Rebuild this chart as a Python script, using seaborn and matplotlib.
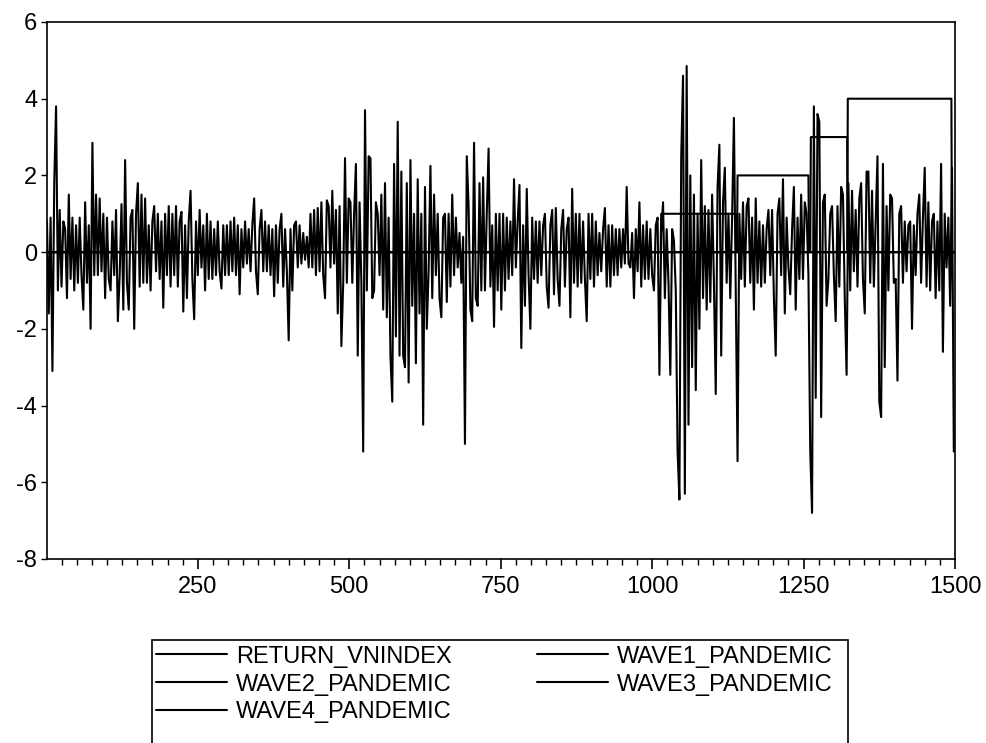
import numpy as np
import pandas as pd
import matplotlib
matplotlib.use("Agg")
import matplotlib.pyplot as plt
import seaborn as sns
from matplotlib.patches import Rectangle
from matplotlib.ticker import MultipleLocator

ret_step = 3
return_vnindex = [
    0.8, -1.6, 0.9, -3.1, 1.8, 3.8, -1.0, 1.1, -0.9, 0.8,
    0.6, -1.2, 1.5, -0.7, 0.9, -1.0, 0.7, -0.8, 0.9, -0.6,
    -1.5, 1.3, -0.8, 0.7, -2.0, 2.85, -0.6, 1.5, -0.6, 1.4,
    -0.5, 1.0, -1.2, 0.9, -0.7, -1.0, 0.8, -0.6, 1.1, -1.8,
    -0.6, 1.25, -1.5, 2.4, -0.8, -1.5, 0.9, 1.1, -2.0, 1.0,
    1.8, -0.9, 1.5, -0.8, 1.4, -0.8, 0.7, -1.0, 0.8, 1.2,
    -0.5, 1.0, -0.7, 0.8, -1.45, 1.0, -0.6, 1.2, -0.9, 1.0,
    -0.6, 1.2, -0.9, 0.8, 1.05, -1.55, 0.7, -1.2, 0.8, 1.6,
    -0.7, -1.75, 0.8, -0.6, 1.1, -0.4, 0.7, -1.0, 1.0, -0.7,
    0.8, -0.7, 0.6, -0.6, 0.8, -0.5, -0.95, 0.7, -0.6, 0.7,
    # 301 - 598
    -0.6, 0.8, -0.5, 0.9, -0.6, 0.7, -1.1, 0.6, -0.4, 0.8,
    -0.3, 0.6, -0.5, 0.7, 1.4, -0.5, -1.1, 0.6, 1.1, -0.5,
    0.8, -0.5, 0.7, -0.6, 0.6, -1.15, 0.7, -0.8, 0.6, 1.0,
    -0.9, 0.6, -0.5, -2.3, 0.6, -1.0, 0.7, 0.8, -0.4, 0.7,
    -0.3, 0.5, -0.2, 0.4, -0.4, 1.0, -0.4, 1.1, -0.6, 1.15,
    -0.5, 1.3, -0.6, -1.2, 1.35, 1.2, -0.4, 1.6, -0.3, 1.1,
    -1.6, 1.2, -2.45, -0.8, 2.45, -0.8, 1.4, 1.3, -0.8, 1.0,
    2.3, -2.7, 1.3, -0.8, -5.2, 3.7, -1.0, 2.5, 2.45, -1.2,
    -1.0, 1.3, 1.0, -0.6, 1.5, -1.5, 1.8, -1.7, 0.9, -2.7,
    -3.9, 2.3, -2.2, 3.4, -2.7, 2.1, -2.7, -3.0, 1.8, -3.4,
    # 601 - 898
    2.4, -1.4, 1.0, -2.9, 1.9, -1.6, 1.0, -4.5, 1.7, -2.0,
    -0.5, 2.25, -1.2, 1.5, -0.6, 1.0, -1.2, -1.7, 0.9, 1.0,
    -1.3, 1.0, -0.9, 1.5, -0.6, 0.9, -0.4, 0.5, -0.8, 0.4,
    -5.0, 2.5, 1.2, -1.5, -1.8, 2.85, -1.2, -1.4, 1.8, -1.0,
    1.95, -1.0, 1.0, 2.7, -0.9, 0.7, -1.95, 1.0, -1.0, 1.0,
    -1.5, 1.0, -1.0, 0.9, -0.7, 0.8, -0.6, 1.9, -0.4, 0.8,
    1.75, -2.5, 0.7, -1.4, 1.65, -0.6, -2.0, 0.9, -0.7, 0.8,
    -0.8, 0.8, -0.6, 0.7, 1.0, -0.9, -1.45, 0.7, 1.1, -1.1,
    1.15, -0.7, -1.4, 0.6, 1.1, -0.9, 0.6, 0.9, -1.7, 1.65,
    -0.8, 1.0, -0.9, 1.0, -0.8, 0.8, -0.7, -1.8, 1.0, -0.7,
    # 901 - 1198
    1.0, -0.9, 0.8, -0.6, 0.5, -0.5, 0.6, 1.15, -0.9, 0.7,
    -0.9, 0.7, -0.6, 0.6, -0.6, 0.6, -0.4, 0.6, -0.3, 1.7,
    -0.3, -0.4, 0.5, -1.2, 0.6, -0.5, 1.3, -0.9, 0.7, -0.7,
    0.8, -0.7, 0.6, -0.6, -1.0, 0.7, 0.9, -3.2, 0.5, 1.3,
    -1.2, 0.6, -0.8, -3.2, 0.6, 0.3, -1.0, -5.2, -6.45, 2.5,
    4.6, -6.3, 4.85, -4.5, 2.0, -3.0, 1.5, -3.6, 1.0, -2.0,
    2.4, -1.2, 1.2, -1.5, 1.1, -1.3, 1.5, -0.8, -3.7, 1.7,
    2.8, -2.7, 1.3, 2.2, -0.8, 1.0, -1.2, 0.9, 3.5, -1.0,
    -5.45, 1.0, -0.7, 1.3, -0.9, 1.2, 1.4, -0.8, 0.9, -1.5,
    1.4, -0.8, 0.8, -0.9, 0.7, -0.8, 0.6, 1.1, -0.6, 1.1,
    # 1201 - 1498
    -1.2, -2.7, 1.0, 1.4, -0.6, 1.9, -1.6, 0.9, -0.4, -1.1,
    0.6, 1.7, -1.5, 0.9, -0.7, 1.5, -0.7, 1.3, 1.0, -0.6,
    -5.2, -6.8, 3.8, -3.8, 3.6, 3.4, -4.3, 1.3, 1.5, -1.4,
    -0.7, 1.0, 1.2, -0.6, -1.8, 1.2, -0.9, 1.7, 1.5, -1.2,
    -3.2, 1.8, -1.0, 1.6, -0.5, 1.1, -0.9, 1.4, 1.8, -0.7,
    -1.6, 2.1, 2.1, -0.8, 1.6, -0.9, 0.8, 2.5, -3.9, -4.3,
    2.3, -3.0, 1.2, -1.0, 1.5, 1.4, -0.8, -0.7, -3.35, 1.0,
    1.2, -0.8, 0.8, -0.5, 0.7, 0.8, -2.0, 0.7, -0.6, 1.0,
    1.5, -0.8, 0.9, 2.2, -0.9, 1.3, -1.0, 0.8, 1.0, -1.2,
    0.8, -1.0, 2.3, -2.6, 1.0, -0.4, 0.9, -1.4, 2.2, -5.2,
]

# pandemic wave dummies (level during the wave, 0 otherwise)
n_obs = 1500
wave_names = ["WAVE1_PANDEMIC", "WAVE2_PANDEMIC", "WAVE3_PANDEMIC", "WAVE4_PANDEMIC"]
wave_levels = [1, 2, 3, 4]
wave_start = [1015, 1141, 1262, 1323]
wave_end = [1140, 1258, 1322, 1494]

ret_df = pd.DataFrame({
    "obs": np.arange(1, n_obs + 1, ret_step)[:len(return_vnindex)],
    "value": return_vnindex,
})
obs = np.arange(1, n_obs + 1)
wave_df = pd.DataFrame({"obs": obs})
for name, lev, s, e in zip(wave_names, wave_levels, wave_start, wave_end):
    wave_df[name] = np.where((obs >= s) & (obs <= e), lev, 0)

sns.set_style("ticks")
plt.rcParams["font.family"] = ["Liberation Sans", "DejaVu Sans"]
plt.rcParams["axes.unicode_minus"] = False
plt.rcParams["text.color"] = "black"
plt.rcParams["xtick.color"] = "black"
plt.rcParams["ytick.color"] = "black"

fig = plt.figure(figsize=(9.87, 7.43), dpi=100)
ax = fig.add_axes([0.0476, 0.2477, 0.9200, 0.7227])

sns.lineplot(data=ret_df, x="obs", y="value", color="black", lw=1.5,
             estimator=None, label="RETURN_VNINDEX", ax=ax)
for name in wave_names:
    sns.lineplot(data=wave_df, x="obs", y=name, color="black", lw=1.5,
                 estimator=None, label=name, ax=ax)

ax.set_xlim(1, 1500)
ax.set_ylim(-8, 6)
ax.set_xlabel("")
ax.set_ylabel("")
ax.xaxis.set_major_locator(MultipleLocator(250))
ax.xaxis.set_minor_locator(MultipleLocator(25))
ax.yaxis.set_major_locator(MultipleLocator(2))
ax.tick_params(axis="x", which="major", length=7, width=1.2, pad=5, labelsize=17)
ax.tick_params(axis="x", which="minor", length=4, width=1.0)
ax.tick_params(axis="y", which="major", length=4, width=1.0, pad=3, labelsize=17)
for sp in ax.spines.values():
    sp.set_visible(True)
    sp.set_color("black")
    sp.set_linewidth(1.2)

# legend below the plot, filled row by row as in the original
handles, labels = ax.get_legend_handles_labels()
ax.get_legend().remove()
order = [0, 2, 4, 1, 3]
fig.legend([handles[i] for i in order], [labels[i] for i in order],
           ncol=2, loc="upper left", bbox_to_anchor=(0.158, 0.131),
           frameon=False, fontsize=17, handlelength=3.0, handletextpad=0.4,
           columnspacing=3.6, labelspacing=0.25, borderaxespad=0, borderpad=0)
fig.add_artist(Rectangle((152 / 987, -0.01), 696 / 987, (743 - 640) / 743 + 0.01,
                         transform=fig.transFigure, fill=False, ec="black", lw=1.2))

fig.savefig("out.png", dpi=100)
